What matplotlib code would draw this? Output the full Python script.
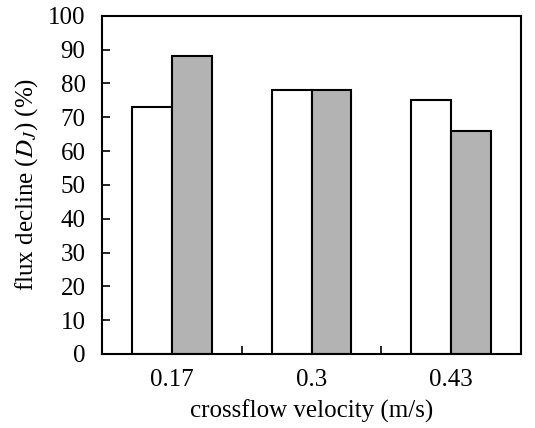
import matplotlib
matplotlib.use("Agg")
import matplotlib.pyplot as plt
import numpy as np

# data
velocities = ["0.17", "0.3", "0.43"]
open_bars = [73, 78, 75]
grey_bars = [88, 78, 66]

plt.rcParams["font.family"] = "Liberation Serif"
plt.rcParams["mathtext.fontset"] = "stix"

fig = plt.figure(figsize=(5.35, 4.28), dpi=100)
ax = fig.add_axes([0.191, 0.173, 0.783, 0.790])

x = np.arange(len(velocities))
w = 0.285
ax.bar(x - w / 2, open_bars, w, color="white", edgecolor="black", linewidth=1.5)
ax.bar(x + w / 2, grey_bars, w, color="#b3b3b3", edgecolor="black", linewidth=1.5)

ax.set_xlim(-0.5, len(velocities) - 0.5)
ax.set_ylim(0, 100)
ax.set_yticks(range(0, 101, 10))
ax.set_xticks(x)
ax.set_xticklabels(velocities)
ax.set_xticks(x[:-1] + 0.5, minor=True)
ax.tick_params(axis="x", which="major", length=0, labelsize=18, pad=11)
ax.tick_params(axis="x", which="minor", direction="in", length=6, width=1.2)
ax.tick_params(axis="y", direction="in", length=6, width=1.2, labelsize=18, pad=12)
for s in ax.spines.values():
    s.set_linewidth(1.5)

ax.set_xlabel("crossflow velocity (m/s)", fontsize=18, labelpad=6)
ax.set_ylabel(r"flux decline ($D_J$) (%)", fontsize=18, labelpad=6)

fig.savefig("out.png", dpi=100)
